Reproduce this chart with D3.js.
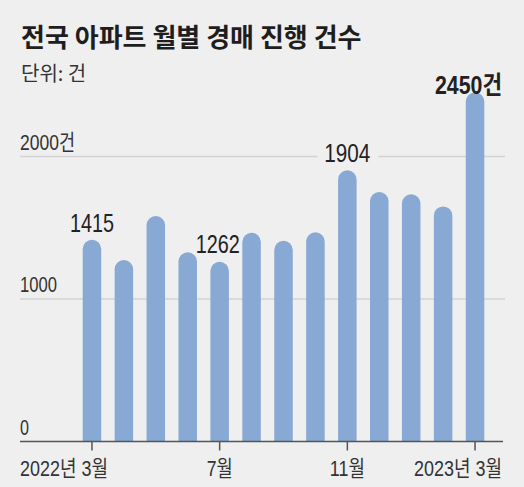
<!DOCTYPE html>
<html>
<head>
<meta charset="utf-8">
<script src="https://cdn.jsdelivr.net/npm/d3@7"></script>
<style>
  body { margin: 0; background: #efefef; }
  svg { display: block; }
  .num { font-family: "Liberation Sans", "Noto Sans CJK KR", sans-serif; }
  .kr { font-family: "Noto Sans CJK KR", sans-serif; }
</style>
</head>
<body>
<svg></svg>
<script>
var WIDTH = 524;
var HEIGHT = 487;

var months = ["2022-03", "2022-04", "2022-05", "2022-06", "2022-07", "2022-08", "2022-09",
              "2022-10", "2022-11", "2022-12", "2023-01", "2023-02", "2023-03"];
var counts = [1415, 1274, 1582, 1328, 1262, 1465, 1409, 1468, 1904, 1751, 1735, 1650, 2450];
var labelled = {"2022-03": "1415", "2022-07": "1262", "2022-11": "1904", "2023-03": "2450건"};
var tickMonths = ["2022-03", "2022-07", "2022-11", "2023-03"];
var tickLabels = ["2022년 3월", "7월", "11월", "2023년 3월"];
var gridValues = [0, 1000, 2000];
var gridLabels = ["0", "1000", "2000건"];

// condensed look: rendered widths of the narrow labels
var narrow = {"0": 9, "1000": 37, "2000건": 55, "1415": 44, "1262": 44, "1904": 46,
              "2450건": 67, "2022년 3월": 88, "7월": 26, "11월": 35, "2023년 3월": 88};

var svg = d3.select("svg")
    .attr("width", WIDTH)
    .attr("height", HEIGHT);

svg.append("rect")
    .attr("width", WIDTH)
    .attr("height", HEIGHT)
    .attr("fill", "#efefef");

var x = d3.scaleBand()
    .domain(months)
    .range([76, 491])
    .paddingInner(0.42)
    .paddingOuter(0.21);

var y = d3.scaleLinear()
    .domain([0, 2500])
    .range([441.5, 85.25]);

function squeeze(sel) {
    sel.attr("textLength", function() { return narrow[d3.select(this).text()]; })
       .attr("lengthAdjust", "spacingAndGlyphs");
}

// title
svg.append("text")
    .attr("class", "kr")
    .attr("x", 21)
    .attr("y", 47)
    .attr("font-size", 26)
    .attr("font-weight", "bold")
    .attr("fill", "#1e1e1e")
    .text("전국 아파트 월별 경매 진행 건수");

svg.append("text")
    .attr("class", "kr")
    .attr("x", 21)
    .attr("y", 81)
    .attr("font-size", 20)
    .attr("fill", "#333")
    .text("단위: 건");

// gridlines
svg.selectAll(".grid")
    .data(gridValues.slice(1))
    .enter()
    .append("line")
    .attr("x1", 20)
    .attr("x2", 505)
    .attr("y1", function(d) { return y(d); })
    .attr("y2", function(d) { return y(d); })
    .attr("stroke", "#d3d3d3")
    .attr("stroke-width", 1.5);

svg.selectAll(".gridlabel")
    .data(gridValues)
    .enter()
    .append("text")
    .attr("class", "num")
    .attr("x", 20)
    .attr("y", function(d) { return y(d) - 7; })
    .attr("font-size", 22)
    .attr("fill", "#333")
    .text(function(d, i) { return gridLabels[i]; })
    .call(squeeze);

// bars with rounded tops
var bw = x.bandwidth();
var r = bw / 2;
svg.selectAll(".bar")
    .data(counts)
    .enter()
    .append("path")
    .attr("fill", "#87a9d3")
    .attr("d", function(d, i) {
        var x0 = x(months[i]);
        var top = y(d);
        var base = y(0);
        return "M" + x0 + "," + base +
            "L" + x0 + "," + (top + r) +
            "A" + r + "," + r + " 0 0 1 " + (x0 + bw) + "," + (top + r) +
            "L" + (x0 + bw) + "," + base + "Z";
    });

// axis
var tickX = d3.scaleOrdinal().domain(tickMonths).range(tickLabels);
var axis = d3.axisBottom(x)
    .tickValues(tickMonths)
    .tickSize(9)
    .tickPadding(10)
    .tickFormat(function(d) { return tickX(d); });

var gAxis = svg.append("g")
    .attr("transform", "translate(0," + y(0) + ")")
    .call(axis);

gAxis.select(".domain").remove();
gAxis.selectAll(".tick line").attr("stroke", "#555").attr("stroke-width", 1.5);
gAxis.selectAll(".tick text")
    .attr("class", "num")
    .attr("font-size", 22)
    .attr("fill", "#333")
    .attr("dy", "0.71em")
    .call(squeeze)
    .each(function(d, i) {
        var t = d3.select(this);
        if (i === 0) {
            t.attr("text-anchor", "start").attr("x", 20 - (x(d) + bw / 2));
        } else if (i === tickMonths.length - 1) {
            t.attr("text-anchor", "end").attr("x", 502 - (x(d) + bw / 2));
        }
    });

svg.append("line")
    .attr("x1", 20)
    .attr("x2", 503)
    .attr("y1", y(0))
    .attr("y2", y(0))
    .attr("stroke", "#555")
    .attr("stroke-width", 1.5);

// value labels
months.forEach(function(m, i) {
    if (!labelled[m]) return;
    var cx = x(m) + bw / 2;
    var last = i === months.length - 1;
    if (m === "2022-11") {
        svg.append("rect")
            .attr("x", cx - 30)
            .attr("y", y(2000) - 3)
            .attr("width", 61)
            .attr("height", 6)
            .attr("fill", "#efefef");
    }
    var t = svg.append("text")
        .attr("class", "num")
        .attr("x", last ? 502 : cx)
        .attr("y", last ? 94 : y(counts[i]) - 8)
        .attr("text-anchor", last ? "end" : "middle")
        .attr("font-size", 25)
        .attr("font-weight", last ? "bold" : "normal")
        .attr("fill", "#222")
        .text(labelled[m])
        .call(squeeze);
    if (m === "2022-07") t.attr("x", cx - 2).attr("y", 253);
});
</script>
</body>
</html>
